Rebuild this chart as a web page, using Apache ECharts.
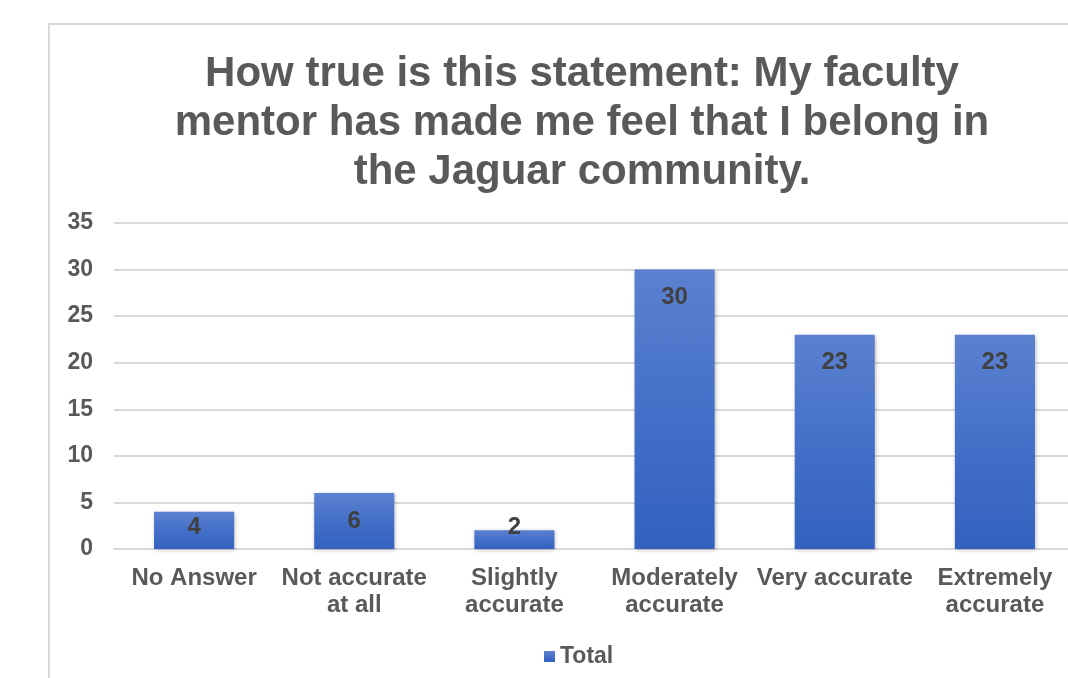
<!DOCTYPE html>
<html><head><meta charset="utf-8">
<script src="https://cdn.jsdelivr.net/npm/echarts@6/dist/echarts.min.js"></script>
<style>html,body{margin:0;padding:0;background:#fff;overflow:hidden;}#c{width:1080px;height:678px;}</style>
</head><body><div id="c"></div>
<script>
const categories = ['No Answer', 'Not accurate\nat all', 'Slightly\naccurate', 'Moderately\naccurate', 'Very accurate', 'Extremely\naccurate'];
const totals = [4, 6, 2, 30, 23, 23];
const yTicks = [0, 5, 10, 15, 20, 25, 30, 35];
const titleText = 'How true is this statement: My faculty\nmentor has made me feel that I belong in\nthe Jaguar community.';

const chart = echarts.init(document.getElementById('c'));
const font = '"Liberation Sans", Arial, sans-serif';
const labelBase = { show: true, fontFamily: font, fontSize: 24, fontWeight: 'bold', color: '#404040', lineHeight: 24 };
const barData = totals.map(v => ({
  value: v,
  label: v < 5 ? { position: 'insideBottom', distance: 10 } : { position: 'insideTop', distance: 16 }
}));

chart.setOption({
  animation: false,
  textStyle: { fontFamily: font },
  graphic: [{
    type: 'rect', silent: true, z: -1,
    shape: { x: 49, y: 24, width: 1100, height: 700 },
    style: { fill: 'none', stroke: '#d9d9d9', lineWidth: 2 }
  }],
  title: {
    text: titleText, left: 577, top: 45, textAlign: 'center',
    textStyle: { fontFamily: font, fontSize: 42, fontWeight: 'bold', color: '#595959', lineHeight: 49 }
  },
  legend: {
    top: 640, left: 539, itemWidth: 11, itemHeight: 11, icon: 'rect', itemGap: 8,
    textStyle: { fontFamily: font, fontSize: 23, fontWeight: 'bold', color: '#595959' },
    data: ['Total']
  },
  grid: { left: 114, right: 5, top: 223, bottom: 129, containLabel: false },
  xAxis: {
    type: 'category', data: categories,
    axisTick: { show: false },
    axisLine: { lineStyle: { color: '#d9d9d9', width: 2 } },
    axisLabel: { interval: 0, fontFamily: font, fontSize: 24, fontWeight: 'bold', color: '#595959', lineHeight: 27, margin: 16 }
  },
  yAxis: {
    type: 'value', min: yTicks[0], max: yTicks[yTicks.length - 1], interval: 5,
    axisLine: { show: false }, axisTick: { show: false },
    splitLine: { lineStyle: { color: '#d9d9d9', width: 2 } },
    axisLabel: { fontFamily: font, fontSize: 23, fontWeight: 'bold', color: '#595959', margin: 21 }
  },
  series: [{
    name: 'Total', type: 'bar', data: barData, barWidth: '50%',
    itemStyle: {
      color: new echarts.graphic.LinearGradient(0, 0, 0, 1, [
        { offset: 0, color: '#5b81d0' }, { offset: 0.5, color: '#4470c8' }, { offset: 1, color: '#3261bf' }
      ]),
      shadowColor: 'rgba(0,0,0,0.25)', shadowBlur: 4, shadowOffsetX: 1, shadowOffsetY: 1
    },
    label: labelBase
  }]
});
</script></body></html>
